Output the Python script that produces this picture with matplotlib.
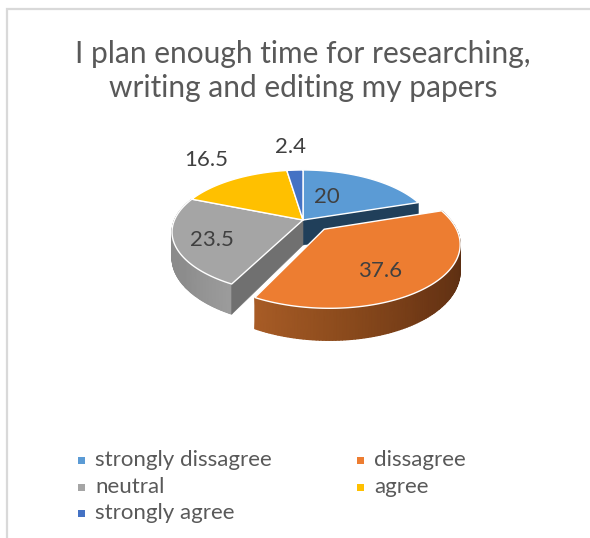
import numpy as np
import matplotlib
matplotlib.use("Agg")
import matplotlib.pyplot as plt
from matplotlib.colors import LinearSegmentedColormap
from matplotlib.patches import Polygon, Rectangle

plt.rcParams["font.family"] = ["Lato", "DejaVu Sans"]

TITLE = "I plan enough time for researching,\nwriting and editing my papers"
categories = ["strongly dissagree", "dissagree", "neutral", "agree", "strongly agree"]
values = [20, 37.6, 23.5, 16.5, 2.4]

top_colors = ["#5b9bd5", "#ed7d31", "#a5a5a5", "#ffc000", "#4472c4"]
# how far each slice is pulled out of the pie, as a share of the radius (right, back)
explode = [(0, 0), (0.16, -0.15), (0, 0), (0, 0), (0, 0)]
label_pos = [(327, 197), (380, 271), (212, 240), (206, 160), (290, 147)]
legend_pos = [(78, 460), (357, 460), (78, 487), (357, 487), (78, 513)]

# perspective of the tilted pie, in pixels of the picture
CX, CY = 303, 220
SCALE_X, SCALE_Y = 128.5, 59.7
PERSP = 0.1935
DEPTH = 25


def project(u, v, drop=False):
    # u to the right, v towards the back of the pie
    w = 1 + PERSP * v
    x = CX + SCALE_X * u / w
    y = CY - SCALE_Y * v / w
    if drop:
        y = y + DEPTH / w
    return x, y


def rim(a0, a1, off, n=120):
    t = np.radians(np.linspace(a0, a1, n))
    return np.sin(t) + off[0], np.cos(t) + off[1]


def draw_wall(ax, us, vs, stops):
    # side of the pie as a smooth mesh so it can carry a gradient
    xt, yt = project(us, vs)
    xb, yb = project(us, vs, drop=True)
    X = np.vstack([xt, xb])
    Y = np.vstack([yt, yb])
    pos = np.linspace(0, 1, len(us))
    C = np.vstack([pos, pos])
    cmap = LinearSegmentedColormap.from_list("wall", stops)
    ax.pcolormesh(X, Y, C, cmap=cmap, vmin=0, vmax=1, shading="gouraud")


def draw_flat_wall(ax, p0, p1, color):
    x0, y0 = project(*p0)
    x1, y1 = project(*p1)
    x2, y2 = project(*p1, drop=True)
    x3, y3 = project(*p0, drop=True)
    ax.add_patch(Polygon([(x0, y0), (x1, y1), (x2, y2), (x3, y3)],
                         facecolor=color, edgecolor=color, linewidth=0.4))


fig = plt.figure(figsize=(5.9, 5.38), dpi=100)
ax = fig.add_axes([0, 0, 1, 1])
ax.set_xlim(0, 590)
ax.set_ylim(538, 0)
ax.axis("off")

# chart frame, cut off at the right and the bottom
ax.plot([6.5, 6.5, 590], [538, 8.5, 8.5], color="#d9d9d9", linewidth=1.6,
        solid_joinstyle="miter")

ax.text(303, 71, TITLE, fontsize=21.5, color="#595959", ha="center", va="center",
        linespacing=1.3)

# slice boundaries from the values, clockwise from 12 o'clock
total = sum(values)
edges = np.concatenate([[0], np.cumsum(values)]) / total * 360
slices = [(edges[i], edges[i + 1], explode[i]) for i in range(len(values))]

# walls: blue cut side, gray rim and cut side, orange rim
a0, a1, off = slices[0]
end = rim(a0, a1, off)
draw_flat_wall(ax, off, (end[0][-1], end[1][-1]), "#203f5a")

a0, a1, off = slices[2]
us, vs = rim(a0, a1, off)
draw_wall(ax, us, vs, ["#9c9c9c", "#8c8c8c", "#8a8a8a", "#9a9a9a"])
draw_flat_wall(ax, off, (us[0], vs[0]), "#707070")

a0, a1, off = slices[1]
us, vs = rim(a0, a1, off)
draw_wall(ax, us, vs, ["#5a2e12", "#5c2f12", "#6d3715", "#8a4a1c", "#a85c26"])

# the tops of the slices, orange last because it sits in front
for i in [0, 2, 3, 4, 1]:
    a0, a1, off = slices[i]
    us, vs = rim(a0, a1, off)
    px, py = project(np.r_[off[0], us], np.r_[off[1], vs])
    ax.add_patch(Polygon(np.column_stack([px, py]), closed=True,
                         facecolor=top_colors[i], edgecolor="white",
                         linewidth=1.0, joinstyle="round"))

for val, (x, y) in zip(values, label_pos):
    ax.text(x, y, str(val), fontsize=16, color="#404040", ha="center", va="center")

for name, color, (x, y) in zip(categories, top_colors, legend_pos):
    ax.add_patch(Rectangle((x, y - 3.5), 7, 7, facecolor=color, edgecolor="none"))
    ax.text(x + 17, y, name, fontsize=16, color="#595959", ha="left", va="center")

fig.savefig("out.png", dpi=100, facecolor="white")
plt.close(fig)
